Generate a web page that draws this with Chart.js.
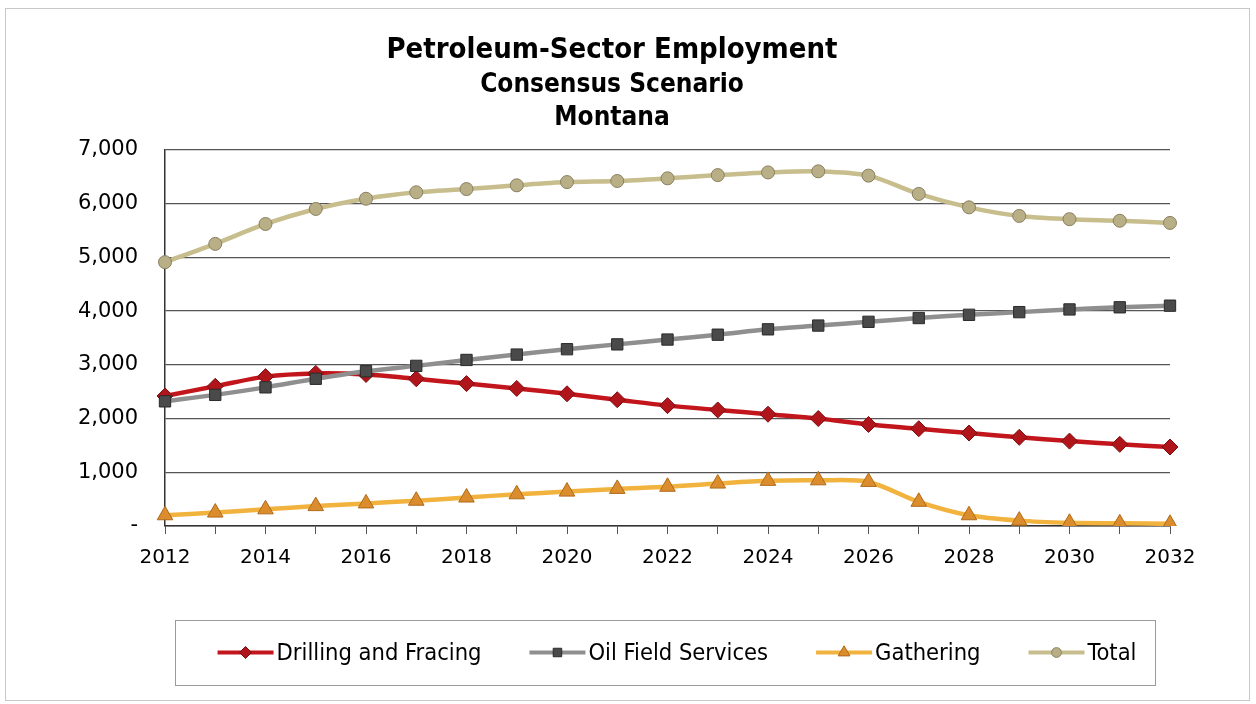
<!DOCTYPE html>
<html>
<head>
<meta charset="utf-8">
<script src="https://cdn.jsdelivr.net/npm/chart.js@4/dist/chart.umd.min.js"></script>
<style>
  body { margin: 0; background: #fff; }
  #wrap { width: 1256px; height: 704px; position: relative; }
</style>
</head>
<body>
<div id="wrap"><canvas id="empChart"></canvas></div>
<script>
/* =========================
   DATA
========================= */

const years = [
  "2012", "2013", "2014", "2015", "2016", "2017", "2018",
  "2019", "2020", "2021", "2022", "2023", "2024", "2025",
  "2026", "2027", "2028", "2029", "2030", "2031", "2032"
];

const drilling = [
  2420, 2600, 2780, 2840, 2820, 2740, 2650, 2560, 2460, 2350, 2240,
  2160, 2080, 2000, 1890, 1810, 1730, 1650, 1580, 1520, 1470
];

const oilServices = [
  2320, 2440, 2580, 2740, 2880, 2980, 3090, 3190, 3290, 3380, 3470,
  3560, 3660, 3730, 3800, 3870, 3930, 3980, 4030, 4070, 4100
];

const gathering = [
  200, 250, 310, 370, 420, 470, 530, 590, 640, 690, 730,
  790, 840, 850, 820, 450, 200, 100, 60, 50, 40
];

const total = [
  4910, 5250, 5620, 5900, 6090, 6210, 6270, 6340, 6400, 6420, 6470,
  6530, 6580, 6600, 6520, 6180, 5930, 5770, 5710, 5680, 5640
];

const yTicks = [0, 1000, 2000, 3000, 4000, 5000, 6000, 7000];

const seriesNames = [
  "Drilling and Fracing",
  "Oil Field Services",
  "Gathering",
  "Total"
];

/* =========================
   STYLES
========================= */

const styles = [
  { line: "#C3161C", fill: "#B0151B", edge: "#7A0E10", point: "rectRot", r: 8 },
  { line: "#8F8F8F", fill: "#4A4A4A", edge: "#2A2A2A", point: "rect", r: 8 },
  { line: "#F1B23E", fill: "#DB8C2C", edge: "#B06A1A", point: "triangle", r: 9 },
  { line: "#C8BD8D", fill: "#B9AF86", edge: "#8A8060", point: "circle", r: 6.5 }
];

const seriesData = [drilling, oilServices, gathering, total];

const TICK_FONT = "DejaVu Sans, sans-serif";
const TITLE_FONT = "DejaVu Sans Condensed, DejaVu Sans, sans-serif";
const LEGEND_FONT = "DejaVu Sans Condensed, DejaVu Sans, sans-serif";

/* =========================
   LEGEND + FRAME PLUGIN
========================= */

function drawMarker(ctx, type, x, y, r, fill, edge) {
  ctx.save();
  ctx.fillStyle = fill;
  ctx.strokeStyle = edge;
  ctx.lineWidth = 1;
  ctx.beginPath();
  if (type === "rectRot") {
    ctx.moveTo(x, y - r);
    ctx.lineTo(x + r, y);
    ctx.lineTo(x, y + r);
    ctx.lineTo(x - r, y);
    ctx.closePath();
  } else if (type === "rect") {
    const s = r * Math.SQRT1_2;
    ctx.rect(x - s, y - s, s * 2, s * 2);
  } else if (type === "triangle") {
    ctx.moveTo(x, y - r);
    ctx.lineTo(x + r * 0.87, y + r * 0.5);
    ctx.lineTo(x - r * 0.87, y + r * 0.5);
    ctx.closePath();
  } else {
    ctx.arc(x, y, r, 0, Math.PI * 2);
  }
  ctx.fill();
  ctx.stroke();
  ctx.restore();
}

const framePlugin = {
  id: "frameAndLegend",

  beforeDraw(chart) {
    const ctx = chart.ctx;
    ctx.save();
    ctx.fillStyle = "#fff";
    ctx.fillRect(0, 0, chart.width, chart.height);
    ctx.strokeStyle = "#C8C8C8";
    ctx.lineWidth = 1;
    ctx.strokeRect(5.5, 8.5, 1244, 692);
    ctx.restore();
  },

  afterDraw(chart) {
    const ctx = chart.ctx;
    const box = { x: 175, y: 620, w: 980, h: 65 };

    ctx.save();
    ctx.strokeStyle = "#9A9A9A";
    ctx.lineWidth = 1;
    ctx.strokeRect(box.x + 0.5, box.y + 0.5, box.w, box.h);

    ctx.font = "23.5px " + LEGEND_FONT;
    ctx.textBaseline = "middle";

    const lineLen = 56;
    const gap = 48;
    const widths = seriesNames.map(n => lineLen + 3 + ctx.measureText(n).width);
    const full = widths.reduce((a, b) => a + b, 0) + gap * (seriesNames.length - 1);

    // the original legend sits a little right of the box centre
    let x = box.x + (box.w - full) / 2 + 12;
    const cy = box.y + box.h / 2;

    seriesNames.forEach((name, i) => {
      const st = styles[i];
      ctx.strokeStyle = st.line;
      ctx.lineWidth = 4;
      ctx.beginPath();
      ctx.moveTo(x, cy);
      ctx.lineTo(x + lineLen, cy);
      ctx.stroke();
      drawMarker(ctx, st.point, x + lineLen / 2, cy, st.r * 0.75, st.fill, st.edge);
      ctx.fillStyle = "#000";
      ctx.fillText(name, x + lineLen + 3, cy + 1);
      x += widths[i] + gap;
    });

    ctx.restore();
  }
};

/* =========================
   CHART
========================= */

const ctx =
  document
    .getElementById("empChart")
    .getContext("2d");

const empChart =
  new Chart(ctx, {

    type: "line",

    data: {

      labels: years,

      datasets: seriesData.map((d, i) => ({
        label: seriesNames[i],
        data: d,
        borderColor: styles[i].line,
        borderWidth: 4.5,
        backgroundColor: styles[i].fill,
        pointBackgroundColor: styles[i].fill,
        pointBorderColor: styles[i].edge,
        pointBorderWidth: 1,
        pointStyle: styles[i].point,
        pointRadius: styles[i].r,
        pointHoverRadius: styles[i].r,
        tension: 0.3,
        fill: false,
        order: 4 - i
      }))

    },

    options: {

      responsive: true,

      maintainAspectRatio: false,

      animation: false,

      layout: {
        padding: { top: 33, left: 0, right: 32, bottom: 0 }
      },

      plugins: {

        legend: { display: false },

        tooltip: { enabled: false },

        title: {
          display: true,
          text: "Petroleum-Sector Employment",
          color: "#000",
          font: { family: TITLE_FONT, size: 29, weight: "bold", lineHeight: 1.2 },
          padding: { top: 0, bottom: 1 }
        },

        subtitle: {
          display: true,
          text: ["Consensus Scenario", "Montana"],
          color: "#000",
          font: { family: TITLE_FONT, size: 26, weight: "bold", lineHeight: 1.27 },
          padding: { top: 0, bottom: 15 }
        }

      },

      scales: {

        x: {

          offset: false,

          afterFit: s => { s.height = 178; },

          ticks: {
            color: "#000",
            font: { family: TICK_FONT, size: 20 },
            autoSkip: false,
            maxRotation: 0,
            padding: 12,
            callback: function (v, i) {
              return i % 2 === 0 ? years[i] : "";
            }
          },

          grid: {
            drawOnChartArea: false,
            drawTicks: true,
            tickLength: 8,
            tickColor: "#555"
          },

          border: { color: "#333", width: 1.5 }

        },

        y: {

          min: 0,

          max: 7000,

          afterFit: s => { s.width = 165; },

          afterBuildTicks: s => {
            s.ticks = yTicks.map(v => ({ value: v }));
          },

          ticks: {
            color: "#000",
            font: { family: TICK_FONT, size: 21 },
            padding: 27,
            callback: v => v === 0 ? "-" : v.toLocaleString("en-US")
          },

          grid: {
            color: "#555",
            lineWidth: 1.2,
            drawTicks: false
          },

          border: { color: "#333", width: 1.5 }

        },

        // empty right-hand spacer so the title centres like the original
        spacer: {
          type: "linear",
          position: "right",
          afterFit: s => { s.width = 54; },
          ticks: { display: false },
          grid: { drawOnChartArea: false, drawTicks: false },
          border: { display: false }
        }

      }

    },

    plugins: [framePlugin]

  });
</script>
</body>
</html>
